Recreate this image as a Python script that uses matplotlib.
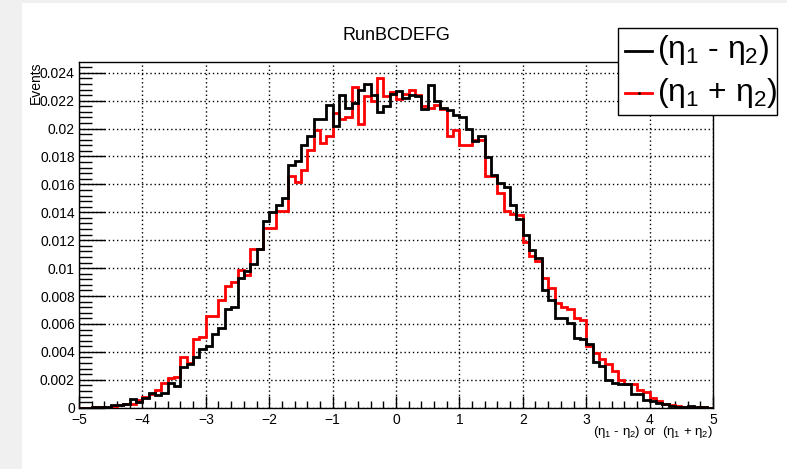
import numpy as np
import matplotlib
matplotlib.use('Agg')
import matplotlib.pyplot as plt
from matplotlib.patches import Rectangle
from matplotlib.lines import Line2D
from matplotlib.ticker import MultipleLocator, FuncFormatter

plt.rcParams['font.family'] = ['Liberation Sans', 'DejaVu Sans']
plt.rcParams['mathtext.fontset'] = 'custom'
plt.rcParams['mathtext.rm'] = 'Liberation Sans'
plt.rcParams['mathtext.it'] = 'Liberation Sans'

# binning: 100 bins between -5 and 5
x_min, x_max, n_bins = -5.0, 5.0, 100

# (eta1 - eta2), normalised
diff_vals = [
    0.0, 0.0, 0.00002, 0.00003, 0.00007, 0.0002, 0.0002, 0.00026, 0.0006, 0.0004,
    0.00067, 0.00107, 0.00088, 0.00105, 0.0018, 0.00155, 0.0029, 0.0031, 0.0036, 0.0042,
    0.0044, 0.0053, 0.0057, 0.0071, 0.0072, 0.0093, 0.0098, 0.0103, 0.0114, 0.0134,
    0.0140, 0.0145, 0.0150, 0.0174, 0.0177, 0.0188, 0.0195, 0.0207, 0.0207, 0.0217,
    0.0202, 0.0224, 0.0215, 0.0218, 0.0228, 0.0232, 0.0224, 0.0212, 0.0216, 0.0225,
    0.0227, 0.0222, 0.0224, 0.0223, 0.0214, 0.0231, 0.0220, 0.0215, 0.0213, 0.0210,
    0.0208, 0.0200, 0.0191, 0.0195, 0.0180, 0.0167, 0.0161, 0.0158, 0.0145, 0.0135,
    0.0124, 0.0113, 0.0107, 0.0084, 0.0077, 0.0064, 0.0064, 0.0061, 0.0050, 0.0049,
    0.00455, 0.0033, 0.0030, 0.0020, 0.0018, 0.0017, 0.0017, 0.0010, 0.00097, 0.00055,
    0.00048, 0.00036, 0.00026, 0.0001, 0.00007, 0.00007, 0.0001, 0.00006, 0.00003, 0.0,
]

# (eta1 + eta2), normalised
sum_vals = [
    0.0, 0.0, 0.00003, 0.00005, 0.00005, 0.00012, 0.0002, 0.0003, 0.0003, 0.00055,
    0.0008, 0.0010, 0.0013, 0.0018, 0.0021, 0.0022, 0.0036, 0.0032, 0.0049, 0.0051,
    0.0066, 0.0066, 0.0077, 0.0087, 0.0090, 0.0099, 0.0095, 0.0114, 0.0114, 0.0129,
    0.0129, 0.0141, 0.0141, 0.0166, 0.0162, 0.0170, 0.0185, 0.0199, 0.0190, 0.0195,
    0.0211, 0.0207, 0.0208, 0.0230, 0.0203, 0.0223, 0.0220, 0.0236, 0.0223, 0.0226,
    0.0221, 0.0225, 0.0228, 0.0224, 0.0216, 0.0215, 0.0217, 0.0214, 0.0195, 0.0199,
    0.0188, 0.0188, 0.0192, 0.0192, 0.0166, 0.0166, 0.0154, 0.0141, 0.0139, 0.0138,
    0.0119, 0.0109, 0.0105, 0.0093, 0.0086, 0.0075, 0.0072, 0.0071, 0.0064, 0.0063,
    0.0044, 0.0039, 0.0035, 0.0031, 0.0026, 0.0020, 0.0017, 0.0017, 0.0013, 0.0011,
    0.0007, 0.0005, 0.00026, 0.0002, 0.0001, 0.00005, 0.00003, 0.00005, 0.00002, 0.0,
]

edges = np.linspace(x_min, x_max, n_bins + 1)

fig = plt.figure(figsize=(7.87, 4.69), dpi=100, facecolor='#f0f0f0')
# white canvas pad (behind everything)
fig.patches.append(Rectangle((22 / 787, 0), 1 - 22 / 787, 1 - 3 / 469,
                             transform=fig.transFigure, facecolor='white',
                             edgecolor='none', zorder=-10))

ax = fig.add_axes([79 / 787, 1 - 407.7 / 469, (713 - 79) / 787, (407.7 - 62.3) / 469])
ax.set_facecolor('white')

ax.stairs(sum_vals, edges, color='#ff0000', lw=2.0, zorder=3)
ax.stairs(diff_vals, edges, color='black', lw=2.0, zorder=4)

ax.set_xlim(x_min, x_max)
ax.set_ylim(0, 0.02475)

ax.xaxis.set_major_locator(MultipleLocator(1))
ax.xaxis.set_minor_locator(MultipleLocator(0.2))
ax.yaxis.set_major_locator(MultipleLocator(0.002))
ax.yaxis.set_minor_locator(MultipleLocator(0.0004))
ax.yaxis.set_major_formatter(FuncFormatter(lambda v, p: '%g' % round(v, 6)))

ax.tick_params(axis='both', which='both', direction='in', top=False, right=False,
               width=1, color='black', labelsize=10)
ax.tick_params(axis='y', which='major', length=19, pad=3)
ax.tick_params(axis='y', which='minor', length=9)
ax.tick_params(axis='x', which='major', length=9, pad=4)
ax.tick_params(axis='x', which='minor', length=5)

for s in ax.spines.values():
    s.set_linewidth(1.0)

ax.grid(True, which='major', color='black', linestyle=(0, (1, 2)), lw=1.0)
ax.set_axisbelow(True)

# title and axis labels in ROOT positions
fig.text(396 / 787, 1 - 36 / 469, 'RunBCDEFG', ha='center', va='center', fontsize=13)
fig.text(36 / 787, 1 - 62 / 469, 'Events', rotation=90, ha='center', va='top', fontsize=10)
fig.text(713 / 787, 1 - 432 / 469, r'($\eta_1$ - $\eta_2$) or  ($\eta_1$ + $\eta_2$)',
         ha='right', va='center', fontsize=9.5)

# legend box
fig.patches.append(Rectangle((618 / 787, 1 - 115 / 469), (777 - 618) / 787, (115 - 28) / 469,
                             transform=fig.transFigure, facecolor='white',
                             edgecolor='black', lw=1.0, zorder=5))
fig.lines.append(Line2D([625 / 787, 652 / 787], [1 - 51 / 469, 1 - 51 / 469],
                        transform=fig.transFigure, color='black', lw=2, zorder=6))
fig.lines.append(Line2D([625 / 787, 652 / 787], [1 - 93 / 469, 1 - 93 / 469],
                        transform=fig.transFigure, color='#ff0000', lw=2, zorder=6))
fig.lines.append(Line2D([638.5 / 787], [1 - 93 / 469], transform=fig.transFigure,
                        marker='.', markersize=2, color='black', zorder=7))
fig.text(657 / 787, 1 - 50 / 469, r'($\eta_1$ - $\eta_2$)', ha='left', va='center',
         fontsize=23, zorder=8)
fig.text(657 / 787, 1 - 93 / 469, r'($\eta_1$ + $\eta_2$)', ha='left', va='center',
         fontsize=23, zorder=8)

fig.savefig('out.png', dpi=100, facecolor=fig.get_facecolor())
